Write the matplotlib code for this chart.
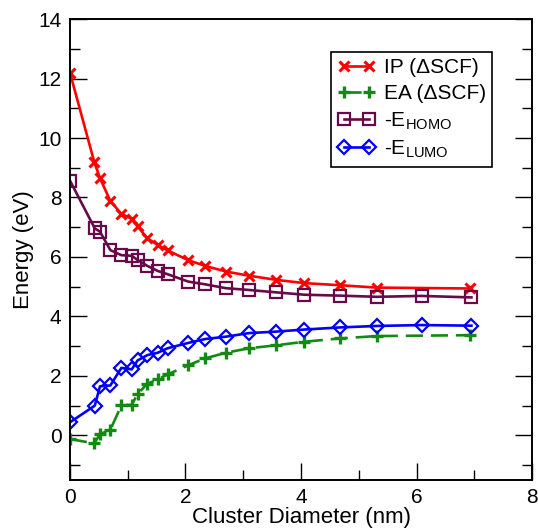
import matplotlib
matplotlib.use("Agg")
import matplotlib.pyplot as plt
from matplotlib.ticker import MultipleLocator

# cluster diameters (nm)
D_ION = [0.0, 0.42, 0.52, 0.70, 0.89, 1.07, 1.17, 1.34, 1.52, 1.69,
         2.05, 2.34, 2.70, 3.10, 3.57, 4.06, 4.67, 5.31, 6.93]
D_ORB = [0.0, 0.43, 0.52, 0.70, 0.89, 1.07, 1.17, 1.34, 1.52, 1.69,
         2.05, 2.34, 2.70, 3.10, 3.57, 4.06, 4.67, 5.31, 6.09, 6.95]

IP = [12.2, 9.2, 8.65, 7.88, 7.45, 7.28, 7.03, 6.63, 6.40, 6.22,
      5.89, 5.70, 5.51, 5.37, 5.23, 5.12, 5.05, 4.97, 4.94]
EA = [-0.12, -0.27, 0.04, 0.19, 1.01, 1.03, 1.39, 1.74, 1.88, 2.05,
      2.36, 2.59, 2.78, 2.93, 3.03, 3.15, 3.26, 3.34, 3.37]
HOMO = [8.57, 6.96, 6.85, 6.23, 6.06, 6.04, 5.90, 5.70, 5.53, 5.42,
        5.17, 5.08, 4.95, 4.89, 4.81, 4.73, 4.70, 4.66, 4.69, 4.64]
LUMO = [0.44, 1.00, 1.65, 1.68, 2.27, 2.22, 2.52, 2.70, 2.78, 2.93,
        3.11, 3.24, 3.32, 3.44, 3.49, 3.56, 3.63, 3.68, 3.71, 3.69]

plt.rcParams["font.family"] = ["Liberation Sans", "DejaVu Sans"]
plt.rcParams["mathtext.fontset"] = "custom"
plt.rcParams["mathtext.rm"] = "Liberation Sans"

fig = plt.figure(figsize=(5.38, 5.29), dpi=100)
ax = fig.add_axes([0.130, 0.0926, 0.859, 0.8714])

lw = 1.9
ax.plot(D_ION, IP, color="#ff0000", lw=lw, marker="x", ms=7.5, mew=2.2,
        label="IP (\u0394SCF)")
ax.plot(D_ION, EA, color="#138a13", lw=lw, ls=(0, (6.5, 3)), marker="+",
        ms=9, mew=2.4, label="EA (\u0394SCF)")
ax.plot(D_ORB, HOMO, color="#680a4a", lw=lw, marker="s", ms=8, mew=1.6,
        mfc="none", label=r"-E$_\mathrm{HOMO}$")
ax.plot(D_ORB, LUMO, color="#0000ff", lw=lw, marker="D", ms=7, mew=1.6,
        mfc="none", label=r"-E$_\mathrm{LUMO}$")

ax.set_xlim(0, 8)
ax.set_ylim(-1.5, 14)
ax.xaxis.set_major_locator(MultipleLocator(2))
ax.xaxis.set_minor_locator(MultipleLocator(1))
ax.yaxis.set_major_locator(MultipleLocator(2))
ax.yaxis.set_minor_locator(MultipleLocator(1))
ax.tick_params(which="both", direction="in", top=False, right=True,
               width=1, labelsize=15, pad=6)
ax.tick_params(which="major", length=12)
ax.tick_params(which="minor", length=7)
for s in ax.spines.values():
    s.set_linewidth(1.4)

ax.set_xlabel("Cluster Diameter (nm)", fontsize=16, labelpad=0)
ax.set_ylabel("Energy (eV)", fontsize=16, labelpad=3)

leg = ax.legend(loc="upper right", bbox_to_anchor=(0.913, 0.928),
                borderaxespad=0, numpoints=2, fontsize=15, fancybox=False,
                framealpha=1, edgecolor="black", handlelength=1.8,
                handletextpad=0.4, labelspacing=0.33, borderpad=0.3)
leg.get_frame().set_linewidth(1.2)

fig.savefig("out.png", dpi=100)
